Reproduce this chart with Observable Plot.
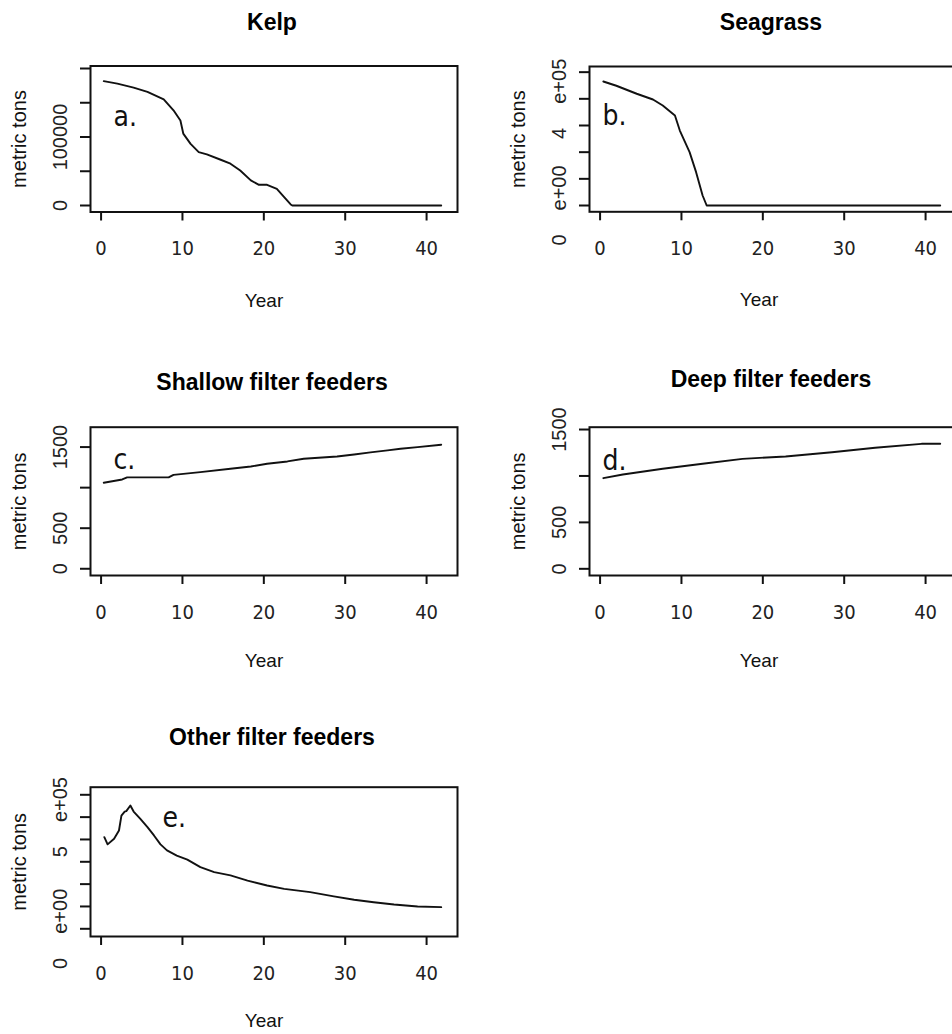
<!DOCTYPE html>
<html><head><meta charset="utf-8">
<script src="https://cdn.jsdelivr.net/npm/d3@7"></script>
<script src="https://cdn.jsdelivr.net/npm/@observablehq/plot@0.6"></script>
<style>
html,body{margin:0;padding:0;background:#fff;}
#wrap{position:relative;width:952px;height:1034px;overflow:hidden;background:#fff;}
.panel{position:absolute;}
</style></head><body><div id="wrap"></div>
<script>
// ---- data ----
const xTicks = [0, 10, 20, 30, 40];

const kelpYear = [0.33, 2, 4, 5.7, 7.7, 8.9, 9.75, 10.1, 11, 12, 13, 14.7, 15.9, 17.1, 18.4, 19.4, 20.4, 21.6, 22.5, 23.3, 23.5, 41.8];
const kelpTons = [181500, 178000, 172000, 166000, 155000, 139000, 124000, 105000, 90000, 78000, 74600, 66800, 61000, 51000, 36600, 30200, 30200, 24400, 12200, 1500, 0, 0];
const kelpYTicks = [0, 50000, 100000, 150000, 200000];
const kelpYLabelValues = [0, 100000];
const kelpYLabels = ["0", "100000"];

const seagrassYear = [0.4, 2.0, 4.5, 6.5, 7.7, 9.2, 9.8, 11.0, 11.8, 12.6, 13.1, 41.8];
const seagrassTons = [465000, 449000, 419000, 397500, 375000, 337500, 281000, 200000, 125000, 37500, 0, 0];
const seagrassYTicks = [0, 100000, 200000, 300000, 400000, 500000];
const seagrassYLabelValues = [0, 400000];
const seagrassYLabels = ["0\u2003\u2009e+00", "4\u2003\u2009e+05"];

const shallowYear = [0.33, 2.6, 3.2, 8.3, 8.9, 12.2, 15.9, 18.4, 20.4, 22.9, 24.9, 29, 31.1, 33.1, 35.2, 36.8, 38.9, 41.8];
const shallowTons = [1060, 1101, 1126, 1126, 1158, 1191, 1232, 1261, 1294, 1323, 1356, 1384, 1409, 1434, 1459, 1479, 1500, 1528];
const shallowYTicks = [0, 500, 1000, 1500];
const shallowYLabelValues = [0, 500, 1500];
const shallowYLabels = ["0", "500", "1500"];

const deepYear = [0.4, 2.8, 7.7, 12.6, 17.5, 22.8, 28.5, 33.8, 39.5, 41.8];
const deepTons = [976, 1016, 1077, 1131, 1184, 1210, 1256, 1303, 1346, 1346];
const deepYTicks = [0, 500, 1000, 1500];
const deepYLabelValues = [0, 500, 1500];
const deepYLabels = ["0", "500", "1500"];

const otherYear = [0.4, 0.8, 1.6, 2.2, 2.5, 2.9, 3.1, 3.6, 4.0, 4.8, 5.7, 6.5, 7.3, 8.1, 9.3, 10.6, 12.2, 13.9, 15.9, 18, 20.4, 22.5, 25.7, 28.6, 31.1, 33.5, 36, 38.9, 41.8];
const otherTons = [410000, 378000, 403000, 440000, 507000, 525000, 527000, 552000, 525000, 493000, 455000, 418000, 378000, 351000, 328000, 310000, 276000, 254000, 239000, 216000, 194000, 179000, 164000, 145000, 130000, 119000, 109000, 100000, 97000];
const otherYTicks = [0, 100000, 200000, 300000, 400000, 500000, 600000];
const otherYLabelValues = [0, 500000];
const otherYLabels = ["0\u2003\u2009e+00", "5\u2003\u2009e+05"];

// ---- rendering ----
const SANS = "'Liberation Sans', Arial, Helvetica, sans-serif";
const NARROW = "'Liberation Sans Narrow', 'Arial Narrow', 'DejaVu Sans Condensed', sans-serif";
const INK = "#111";
const xDomain = [-1.3, 43.8];

function panel(cfg) {
  const data = cfg.years.map((x, i) => ({year: x, tons: cfg.tons[i]}));
  const labels = cfg.yLabelValues.map((v, i) => ({v, t: cfg.yLabels[i]}));
  const p = Plot.plot({
    width: cfg.width, height: cfg.height,
    marginLeft: cfg.mL, marginRight: cfg.mR, marginTop: cfg.mT, marginBottom: cfg.mB,
    style: {fontFamily: SANS, fontSize: "19px", color: INK, background: "transparent", overflow: "visible"},
    x: {domain: xDomain, label: null},
    y: {domain: cfg.yDomain, label: null},
    marks: [
      Plot.axisX({ticks: xTicks, tickSize: 9, tickPadding: 20, strokeWidth: 2, label: null,
        fontFamily: NARROW, fontSize: 20, fill: "#222", tickFormat: d => String(d)}),
      Plot.axisY({ticks: cfg.yTicks, tickSize: 10, strokeWidth: 2, label: null, tickFormat: () => ""}),
      Plot.text(labels, {y: "v", text: "t", frameAnchor: "left", dx: -30, rotate: -90,
        textAnchor: "middle", lineAnchor: "middle", fontSize: 20, fontFamily: SANS, fill: "#222"}),
      Plot.frame({stroke: INK, strokeWidth: 2}),
      Plot.line(data, {x: "year", y: "tons", stroke: INK, strokeWidth: 1.9}),
      Plot.text([cfg.title], {text: d => d, frameAnchor: "top", dy: cfg.titleDy, dx: -2,
        textAnchor: "middle", lineAnchor: "middle",
        fontWeight: "bold", fontSize: 23, fontFamily: SANS, fill: "#000"}),
      Plot.text(["Year"], {text: d => d, frameAnchor: "bottom", dy: cfg.yearDy, dx: cfg.yearDx,
        textAnchor: "middle", lineAnchor: "middle", fontSize: 19, fontFamily: SANS, fill: INK}),
      Plot.text(["metric tons"], {text: d => d, frameAnchor: "left", dx: -71, rotate: -90,
        textAnchor: "middle", lineAnchor: "middle", fontSize: 20, fontFamily: SANS, fill: INK}),
      Plot.text([cfg.letter], {text: d => d, frameAnchor: "top-left", dx: cfg.letterDx, dy: cfg.letterDy,
        textAnchor: "start", lineAnchor: "middle", fontSize: 28, fontFamily: NARROW, fill: INK})
    ]
  });
  p.classList.add("panel");
  p.style.left = cfg.left + "px";
  p.style.top = cfg.top + "px";
  document.getElementById("wrap").appendChild(p);
}

const leftCol = {left: 0, width: 476, mL: 90, mR: 19, yearDx: -10};
const rightCol = {left: 476, width: 499, mL: 113, mR: 19, yearDx: -14};

panel({...leftCol, top: 0, height: 320, mT: 65.5, mB: 108.5, titleDy: -43, yearDy: 88.5,
  title: "Kelp", letter: "a.", letterDx: 23, letterDy: 51,
  years: kelpYear, tons: kelpTons, yDomain: [-9490, 203650],
  yTicks: kelpYTicks, yLabelValues: kelpYLabelValues, yLabels: kelpYLabels});

panel({...rightCol, top: 0, height: 320, mT: 66, mB: 108.7, titleDy: -44, yearDy: 88.5,
  title: "Seagrass", letter: "b.", letterDx: 13, letterDy: 50,
  years: seagrassYear, tons: seagrassTons, yDomain: [-23600, 521200],
  yTicks: seagrassYTicks, yLabelValues: seagrassYLabelValues, yLabels: seagrassYLabels});

panel({...leftCol, top: 330, height: 340, mT: 96.7, mB: 95, titleDy: -45, yearDy: 85,
  title: "Shallow filter feeders", letter: "c.", letterDx: 23, letterDy: 33,
  years: shallowYear, tons: shallowTons, yDomain: [-83, 1745],
  yTicks: shallowYTicks, yLabelValues: shallowYLabelValues, yLabels: shallowYLabels});

panel({...rightCol, top: 330, height: 340, mT: 96.7, mB: 95, titleDy: -48, yearDy: 85,
  title: "Deep filter feeders", letter: "d.", letterDx: 13, letterDy: 34,
  years: deepYear, tons: deepTons, yDomain: [-72, 1525],
  yTicks: deepYTicks, yLabelValues: deepYLabelValues, yLabels: deepYLabels});

panel({...leftCol, top: 680, height: 354, mT: 106.7, mB: 98, titleDy: -50, yearDy: 84,
  title: "Other filter feeders", letter: "e.", letterDx: 72, letterDy: 31,
  years: otherYear, tons: otherTons, yDomain: [-34500, 634000],
  yTicks: otherYTicks, yLabelValues: otherYLabelValues, yLabels: otherYLabels});
</script>
</body></html>
